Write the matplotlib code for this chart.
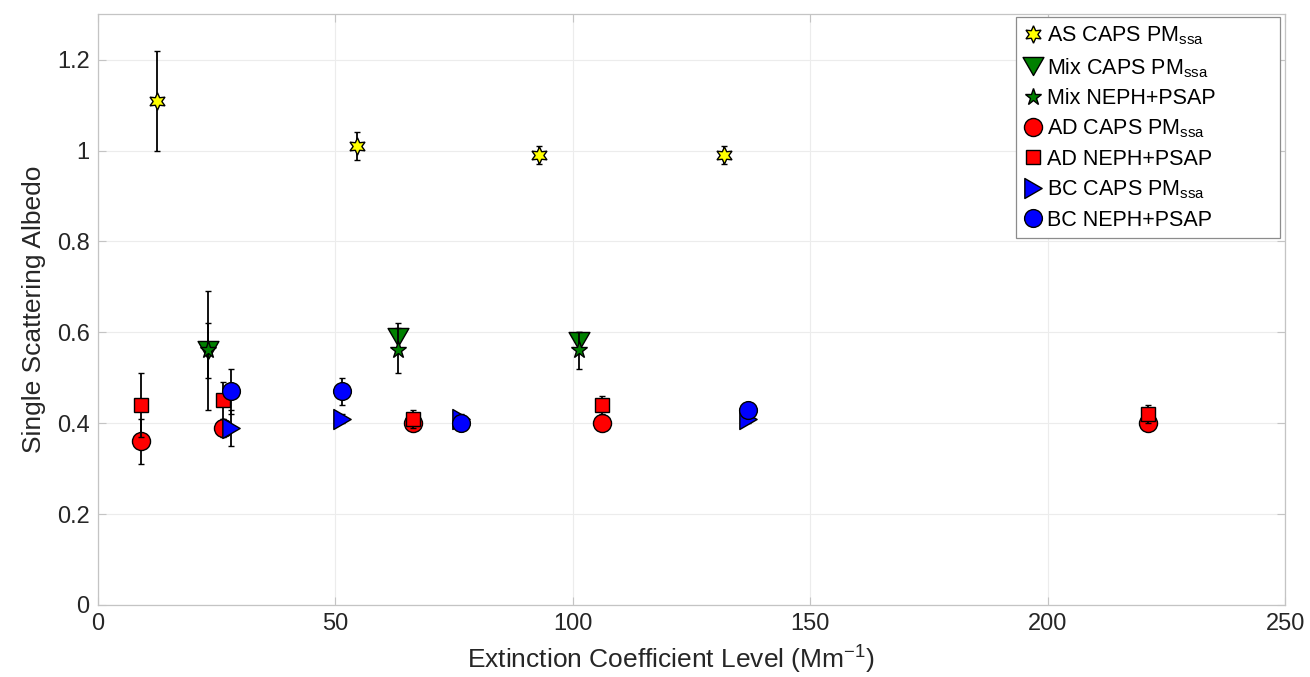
import matplotlib
matplotlib.use("Agg")
import matplotlib.pyplot as plt
from matplotlib.path import Path

plt.rcParams["font.family"] = ["Liberation Sans", "DejaVu Sans"]
plt.rcParams["mathtext.fontset"] = "custom"
plt.rcParams["mathtext.rm"] = "Liberation Sans"
plt.rcParams["mathtext.it"] = "Liberation Sans:italic"

# ---- data -------------------------------------------------------------
as_x = [12.4, 54.5, 92.8, 131.9]
as_caps = [1.11, 1.01, 0.99, 0.99]
as_caps_err = [0.11, 0.03, 0.02, 0.02]

mix_x = [23.2, 63.2, 101.2]
mix_caps = [0.56, 0.59, 0.58]
mix_caps_err = [0.13, 0.03, 0.02]
mix_neph = [0.56, 0.56, 0.56]
mix_neph_err = [0.06, 0.05, 0.04]

ad_x = [9.0, 26.3, 66.4, 106.2, 221.1]
ad_caps = [0.36, 0.39, 0.40, 0.40, 0.40]
ad_caps_err = [0.05, 0.02, 0.01, 0.01, 0.01]
ad_neph = [0.44, 0.45, 0.41, 0.44, 0.42]
ad_neph_err = [0.07, 0.04, 0.02, 0.02, 0.02]

bc_x = [28.0, 51.4, 76.4, 136.9]
bc_caps = [0.39, 0.41, 0.41, 0.41]
bc_caps_err = [0.04, 0.01, 0.01, 0.01]
bc_neph = [0.47, 0.47, 0.40, 0.43]
bc_neph_err = [0.05, 0.03, 0.01, 0.01]

series_labels = [
    r"AS CAPS PM$_{\mathrm{ssa}}$",
    r"Mix CAPS PM$_{\mathrm{ssa}}$",
    "Mix NEPH+PSAP",
    r"AD CAPS PM$_{\mathrm{ssa}}$",
    "AD NEPH+PSAP",
    r"BC CAPS PM$_{\mathrm{ssa}}$",
    "BC NEPH+PSAP",
]

x_ticks = [0, 50, 100, 150, 200, 250]
x_tick_labels = ["0", "50", "100", "150", "200", "250"]
y_ticks = [0, 0.2, 0.4, 0.6, 0.8, 1.0, 1.2]
y_tick_labels = ["0", "0.2", "0.4", "0.6", "0.8", "1", "1.2"]

# ---- marker shapes ------------------------------------------------------
tri_down = Path([(-1, 0.866), (1, 0.866), (0, -0.866), (-1, 0.866)],
                [Path.MOVETO, Path.LINETO, Path.LINETO, Path.CLOSEPOLY])
tri_right = Path([(-0.866, 1), (0.866, 0), (-0.866, -1), (-0.866, 1)],
                 [Path.MOVETO, Path.LINETO, Path.LINETO, Path.CLOSEPOLY])
hexagram = (6, 1, 0)

# ---- figure -------------------------------------------------------------
fig = plt.figure(figsize=(13.1, 6.77), dpi=100)
ax = fig.add_axes([0.0748, 0.1064, 0.9062, 0.8726])

text_col = "#262626"
edge_kw = dict(markeredgecolor="black", markeredgewidth=1.0)
err_kw = dict(ecolor="black", elinewidth=1.3, capsize=2.5, capthick=1.3, linestyle="none")

series = [
    (as_x, as_caps, as_caps_err, hexagram, "#ffff00", 12.5),
    (mix_x, mix_caps, mix_caps_err, tri_down, "#008000", 15),
    (mix_x, mix_neph, mix_neph_err, "*", "#008000", 12.5),
    (ad_x, ad_caps, ad_caps_err, "o", "#ff0000", 13),
    (ad_x, ad_neph, ad_neph_err, "s", "#ff0000", 10.3),
    (bc_x, bc_caps, bc_caps_err, tri_right, "#0000ff", 14.4),
    (bc_x, bc_neph, bc_neph_err, "o", "#0000ff", 12.8),
]

handles = []
for i, (xs, ys, es, mk, col, ms) in enumerate(series):
    cont = ax.errorbar(xs, ys, yerr=es, marker=mk, markersize=ms,
                       markerfacecolor=col, zorder=3 + i, **edge_kw, **err_kw)
    handles.append(cont.lines[0])

ax.set_xlim(0, 250)
ax.set_ylim(0, 1.3)
ax.set_xticks(x_ticks)
ax.set_xticklabels(x_tick_labels)
ax.set_yticks(y_ticks)
ax.set_yticklabels(y_tick_labels)

ax.grid(True, color="#ececec", linewidth=0.8, zorder=0)
ax.set_axisbelow(True)
for sp in ax.spines.values():
    sp.set_color("#c4c4c4")
    sp.set_linewidth(0.9)
ax.tick_params(direction="in", length=6, width=0.8, color="#c4c4c4",
               labelsize=17, labelcolor=text_col, pad=6,
               top=True, right=True)

ax.set_xlabel(r"Extinction Coefficient Level (Mm$^{-1}$)", fontsize=19,
              color=text_col)
ax.xaxis.set_label_coords(0.483, -0.066)
ax.set_ylabel("Single Scattering Albedo", fontsize=19, color=text_col,
              labelpad=8)

leg = ax.legend(handles, series_labels, loc="upper left", mode="expand",
                bbox_to_anchor=(0.7734, 0.5, 0.2224, 0.4949), fontsize=15.5,
                frameon=True, fancybox=False, framealpha=1,
                edgecolor="#8c8c8c", handlelength=0.9, handletextpad=0.2,
                borderpad=0.35, labelspacing=0.4, borderaxespad=0.0)
leg.get_frame().set_linewidth(0.9)
for t in leg.get_texts():
    t.set_color("black")

fig.savefig("out.png", dpi=100, facecolor="white")
